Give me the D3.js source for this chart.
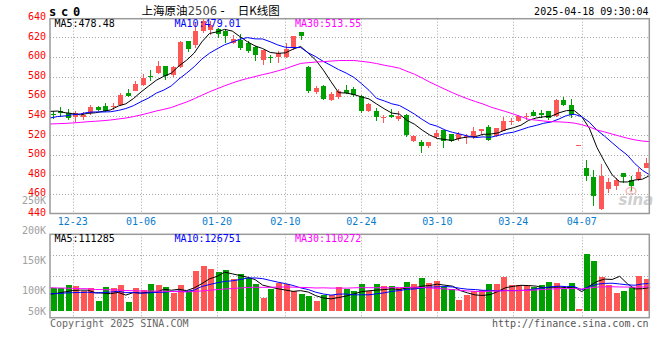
<!DOCTYPE html>
<html><head><meta charset="utf-8">
<script src="https://cdn.jsdelivr.net/npm/d3@7/dist/d3.min.js"></script>
<style>
html,body{margin:0;padding:0;background:#fff;}
svg{display:block;}
text{font-family:"DejaVu Sans Mono",monospace;}
</style></head><body>
<svg id="chart" width="660" height="360"></svg>
<script>
// ---------------- data ----------------
const dates = ["12-18","12-19","12-20","12-23","12-24","12-25","12-26","12-27","12-30","12-31",
"01-02","01-03","01-06","01-07","01-08","01-09","01-10","01-13","01-14","01-15",
"01-16","01-17","01-20","01-21","01-22","01-23","01-24","01-27","02-05","02-06",
"02-07","02-10","02-11","02-12","02-13","02-14","02-17","02-18","02-19","02-20",
"02-21","02-24","02-25","02-26","02-27","02-28","03-03","03-04","03-05","03-06",
"03-07","03-10","03-11","03-12","03-13","03-14","03-17","03-18","03-19","03-20",
"03-21","03-24","03-25","03-26","03-27","03-28","03-31","04-01","04-02","04-03",
"04-07","04-08","04-09","04-10","04-11","04-14","04-15","04-16","04-17","04-18"];
const opens = [542,544.5,543,539,539,542.5,549,550,549,550.6,
563,565.6,571.7,581,583.6,590.4,581.3,589.4,616,612.5,
626,627.8,628.8,626,614.2,617.6,614,609.8,597.2,600,
599.6,599.6,609,625.4,589.4,564.2,570.3,556.4,558.8,566.6,
567.6,559.8,545.2,544.5,537.7,541,537,541,514.7,513.4,
509.6,518,525.6,521,516.8,518.5,518,524.3,529,519,
525,534,535,539.5,543.8,542.8,544.5,539.4,556.4,551.3,
510.3,487.2,477.7,444.7,465,468.5,482,474.3,475.3,487.2];
const highs = [545,549,547,545,543.5,550.5,550,553.5,553,563,
567.5,575,582.5,587,595.5,591,590.5,616,616.5,634.6,
639.5,636.3,630,627,622.7,623.4,616.5,610.8,607.4,601.6,
606.4,614.5,621.5,625.5,590.4,570,571.7,564.2,567.6,571.7,
569,561.5,553,548,540.8,547,544.5,541.5,520,515.4,
513.4,526,526,521.5,523.6,521.5,529,527,530.4,528,
538.5,537.7,540.4,542.5,546,546,545,557.4,559,557.4,
510.3,494.7,484.5,490.6,476.3,477,482,478.7,487.2,497.4];
const lows = [537,538.6,535.5,534,535.7,541,545,543.5,546,549.5,
559,565,570.7,575.7,582.6,576,580,589,605.3,609,
624.4,622.7,619.3,614.2,613.2,607.4,604,596.2,592,593.8,
593.8,599,607.5,617.6,563.2,562.2,556,554.7,556.8,562.2,
559,542.8,543.8,535,533,538,535,518.5,513.4,502.2,
507.3,516,507.3,513.4,514.7,511.4,516,520,514.7,518,
524.3,531,533.7,536,539.5,538,536,539,549.6,537.7,
510.3,473.6,448.2,443.7,461.7,464,471.9,463.4,473.6,486.5];
const closes = [540.8,543,537.5,542.5,541,548.5,546,545,549.5,560.8,
560,572.7,578.5,579.5,590.4,580.2,589.4,615.2,608.4,626.8,
637,632.2,623.4,621,618.3,609,605.7,602.3,607.4,598.6,
604.3,608.4,621,621,565,568.3,557.4,562.2,564.9,563.2,
560.8,545.2,552,539,539,538.7,540,520,519,509.6,
513.4,522.5,514.7,514,521.5,519,524.3,526.7,515.4,527.7,
535,534.5,539.4,540,540,541,537.7,556.4,551.3,540.4,
510.3,478.7,458.4,478.7,473,474.6,478,468.5,483,492.3];
const volumes = [97900,97900,110600,107900,87500,97900,49000,102900,97900,110600,
46300,99100,91400,114500,110600,102900,81000,110600,87500,164500,
183800,172200,159500,168400,132600,151100,139500,114500,61700,95200,
118300,114500,88700,76000,68300,47900,71000,71000,101800,96400,
88700,114500,88700,114500,105600,105600,99100,122200,114500,137600,
118300,124900,101800,96400,54000,71000,86400,92500,114500,114500,
142600,111800,111800,109500,104100,109500,122200,117200,96400,118300,
19500,230000,204200,142600,111800,79800,88700,102900,146400,134900];
// closes / volumes of the 29 sessions before the first drawn candle (feed the moving averages)
const priorCloses = [532,530,527,525,528,531,529,527,530,531,
529,526,524,527,530,532,529,527,528,529,
528,531,530,533,533,541,546,547,547.5];
const priorVolumes = [130000,125000,140000,118000,110000,135000,122000,115000,128000,120000,
112000,125000,118000,130000,108000,115000,126000,120000,117000,116000,
95000,88000,92000,84000,86000,78000,85000,80000,82000];
const maPeriods = [5,10,30];
const maColors = ["#000000","#0000ff","#ff00ff"];
const maPriceLabels = ["MA5:478.48","MA10:479.01","MA30:513.55"];
const maVolumeLabels = ["MA5:111285","MA10:126751","MA30:110272"];
const priceTicks = [640,620,600,580,560,540,520,500,480,460,440];
const volumeTicks = [250000,200000,150000,100000,50000];
const volumeTickLabels = ["250K","200K","150K","100K","50K"];
const dateTicks = ["12-23","01-06","01-20","02-10","02-24","03-10","03-24","04-07"];
const titleParts = ["上海原油", "2506", "-", "日K线图"];
const symbolText = "sc0";
const timeText = "2025-04-18 09:30:04";
const copyText = "Copyright 2025 SINA.COM";
const urlText = "http://finance.sina.com.cn";

// ---------------- layout ----------------
const L = 50, R = 649.3;
const mainTop = 18.7, mainBottom = 213.5;
const volTop = 234.3, volBottom = 317.7, volBase = 311.3;
const UP = "#ff5656", DOWN = "#00a000", GRID = "#a8a8a8", BORDER = "#9a9a9a";

const svg = d3.select("#chart");
const xG = d3.scalePoint().domain(dates).range([49.9, 650.1]);   // grid / MA lines
const xC = d3.scalePoint().domain(dates).range([52.7, 646]);     // candle & bar centres
const yP = d3.scaleLinear().domain([440, 640]).range([213.9, 17.7]);
const yV = d3.scaleLinear().domain([19000, 230000]).range([volBase, 256.5]);
const yVLabel = d3.scaleLinear().domain([0, 250000]).range([350.3, 200.3]);
const yVGrid = d3.scaleLinear().domain([0, 4]).range([volTop, volBottom]);

function movingAvg(prior, vals, n) {
  const all = prior.concat(vals);
  const off = prior.length;
  return vals.map((_, i) => d3.mean(all.slice(off + i - n + 1, off + i + 1)));
}

// ---------------- grids ----------------
const g = svg.append("g");
// horizontal price grid
g.selectAll(".hg").data(priceTicks.slice(1, -1)).join("line")
  .attr("x1", L).attr("x2", R).attr("y1", d => Math.round(yP(d)) + 0.5).attr("y2", d => Math.round(yP(d)) + 0.5)
  .attr("stroke", GRID).attr("stroke-dasharray", "1,2");
// horizontal volume grid
g.selectAll(".vg").data([1, 2, 3]).join("line")
  .attr("x1", L).attr("x2", R).attr("y1", d => Math.round(yVGrid(d)) + 0.5).attr("y2", d => Math.round(yVGrid(d)) + 0.5)
  .attr("stroke", GRID).attr("stroke-dasharray", "1,2");
// vertical grid
dateTicks.forEach(d => {
  const x = Math.round(xG(d)) + 0.5;
  g.append("line").attr("x1", x).attr("x2", x).attr("y1", mainTop).attr("y2", mainBottom)
    .attr("stroke", GRID).attr("stroke-dasharray", "1,2");
  g.append("line").attr("x1", x).attr("x2", x).attr("y1", volTop).attr("y2", volBottom)
    .attr("stroke", GRID).attr("stroke-dasharray", "1,2");
});

// ---------------- candles ----------------
const idx = d3.range(dates.length);
const cg = svg.append("g").attr("shape-rendering", "crispEdges");
idx.forEach(i => {
  const up = closes[i] >= opens[i];
  const col = up ? UP : DOWN;
  const cx = Math.round(xC(dates[i]));
  cg.append("line").attr("x1", cx + 0.5).attr("x2", cx + 0.5)
    .attr("y1", yP(highs[i])).attr("y2", yP(lows[i])).attr("stroke", col);
  const top = yP(Math.max(opens[i], closes[i]));
  const h = Math.max(1, yP(Math.min(opens[i], closes[i])) - top);
  cg.append("rect").attr("x", cx - 2).attr("width", 5).attr("y", top).attr("height", h).attr("fill", col);
});

// ---------------- volume bars ----------------
const BAR_EXTRA = 2.5;
idx.forEach(i => {
  const up = closes[i] >= opens[i];
  const cx = Math.round(xC(dates[i]));
  const top = yV(volumes[i]) - BAR_EXTRA;
  cg.append("rect").attr("x", cx - 2.5).attr("width", 6).attr("y", top).attr("height", volBase - top)
    .attr("fill", up ? UP : DOWN);
});

// ---------------- moving averages ----------------
const lineP = d3.line().x((d, i) => xG(dates[i])).y(d => yP(d));
const lineV = d3.line().x((d, i) => xG(dates[i])).y(d => yV(d));
maPeriods.forEach((n, k) => {
  svg.append("path").datum(movingAvg(priorCloses, closes, n)).attr("d", lineP)
    .attr("fill", "none").attr("stroke", maColors[k]).attr("stroke-width", 1);
  svg.append("path").datum(movingAvg(priorVolumes, volumes, n)).attr("d", lineV)
    .attr("fill", "none").attr("stroke", maColors[k]).attr("stroke-width", 1);
});

// ---------------- borders ----------------
svg.append("rect").attr("x", L).attr("y", mainTop).attr("width", R - L).attr("height", mainBottom - mainTop)
  .attr("fill", "none").attr("stroke", BORDER).attr("stroke-width", 1.5);
svg.append("rect").attr("x", L).attr("y", volTop).attr("width", R - L).attr("height", volBottom - volTop)
  .attr("fill", "none").attr("stroke", BORDER).attr("stroke-width", 1.5);

// ---------------- axis labels ----------------
svg.selectAll(".pl").data(priceTicks).join("text")
  .attr("x", 46).attr("y", d => yP(d) + 2.2).attr("text-anchor", "end")
  .attr("font-size", 10).attr("fill", "#ff0000").text(d => d);
svg.selectAll(".vl").data(volumeTicks).join("text")
  .attr("x", 46).attr("y", d => Math.min(yVLabel(d), volBase) + 3.6).attr("text-anchor", "end")
  .attr("font-size", 10).attr("fill", "#a0a0a0").text((d, i) => volumeTickLabels[i]);
svg.selectAll(".dl").data(dateTicks).join("text")
  .attr("x", d => xG(d)).attr("y", 224.5).attr("text-anchor", "middle")
  .attr("font-size", 10).attr("fill", "#0a7ccc").text(d => d);

// ---------------- header ----------------
svg.append("text").attr("x", 49).attr("y", 15.7).attr("font-size", 12).attr("font-weight", "bold")
  .attr("letter-spacing", 4.8).attr("fill", "#000").text(symbolText);
const cjk = '"Noto Sans CJK SC",sans-serif';
svg.append("text").attr("x", 141.5).attr("y", 14.6).attr("font-size", 11.5).style("font-family", cjk)
  .attr("fill", "#000").text(titleParts[0]);
svg.append("text").attr("x", 187.8).attr("y", 15).attr("font-size", 11.5).style("font-family", '"DejaVu Sans",sans-serif')
  .attr("fill", "#444").text(titleParts[1]);
svg.append("text").attr("x", 220.5).attr("y", 14.6).attr("font-size", 11.5).style("font-family", '"DejaVu Sans",sans-serif')
  .attr("fill", "#000").text(titleParts[2]);
svg.append("text").attr("x", 237.8).attr("y", 14.6).attr("font-size", 11.5).style("font-family", cjk)
  .attr("fill", "#000").text(titleParts[3]);
svg.append("text").attr("x", 648.5).attr("y", 15.3).attr("text-anchor", "end").attr("font-size", 10)
  .attr("fill", "#000").text(timeText);

const maX = [54.5, 174.5, 295];
maPriceLabels.forEach((t, k) => svg.append("text").attr("x", maX[k]).attr("y", 26.6)
  .attr("font-size", 10).attr("fill", maColors[k]).text(t));
maVolumeLabels.forEach((t, k) => svg.append("text").attr("x", maX[k]).attr("y", 241.7)
  .attr("font-size", 10).attr("fill", maColors[k]).text(t));

// ---------------- footer ----------------
svg.append("text").attr("x", 50).attr("y", 327.3).attr("font-size", 10).attr("fill", "#666").text(copyText);
svg.append("text").attr("x", 648.5).attr("y", 327.3).attr("text-anchor", "end").attr("font-size", 10)
  .attr("fill", "#555").text(urlText);

// ---------------- watermark ----------------
const wm = svg.append("g").attr("opacity", 0.55);
wm.append("ellipse").attr("cx", 631).attr("cy", 191).attr("rx", 5).attr("ry", 3.5)
  .attr("fill", "none").attr("stroke", "#f08080").attr("stroke-width", 1.5);
wm.append("circle").attr("cx", 631).attr("cy", 191).attr("r", 1.5).attr("fill", "#f08080");
wm.append("text").attr("x", 618.5).attr("y", 205).attr("font-size", 15).attr("font-weight", "bold")
  .attr("font-style", "italic").style("font-family", '"DejaVu Sans",sans-serif').attr("fill", "#a8a8a8").text("sina");
</script>
</body></html>
